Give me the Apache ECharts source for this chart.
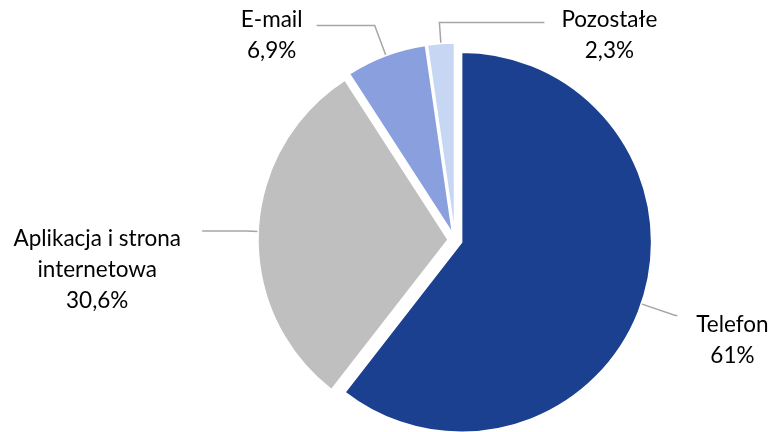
<!DOCTYPE html>
<html>
<head>
<meta charset="utf-8">
<script src="https://cdn.jsdelivr.net/npm/echarts@6/dist/echarts.min.js"></script>
<style>
  html, body { margin: 0; padding: 0; background: #ffffff; }
  #chart_container { width: 773px; height: 432px; }
</style>
</head>
<body>
<div id="chart_container"></div>
<script>
// data
const categories = ['Telefon', 'Aplikacja i strona\ninternetowa', 'E-mail', 'Pozostałe']
const shares = [61, 30.6, 6.9, 2.3]
const shareLabels = ['61%', '30,6%', '6,9%', '2,3%']

// styling
const sliceColors = ['#1b408f', '#bfbfbf', '#8a9fde', '#c6d6f3']

// label placement per slice: line lengths, text block width, padding, alignment
const lineLengths = [36, 12, 32, 21]
const lineLengths2 = [2, 44, 58, -105]
const blockWidths = [100, 200, 80, 110]
const blockPadding = [[50, 0, 0, 0], [78, 0, 0, 0], [19, 0, 0, 0], [26, 0, 0, 15]]
const blockAlign = ['left', 'right', 'right', 'left']

function buildChart(){
    let chart_container = document.getElementById('chart_container')
    let chart = echarts.init(chart_container)

    let pieData = categories.map((name, i) => {
        let lines = (name + '\n' + shareLabels[i]).split('\n')
        return {
            name: name,
            value: shares[i],
            selected: true,
            itemStyle: { color: sliceColors[i] },
            label: {
                formatter: lines.map(t => '{t|' + t + '}').join('\n'),
                padding: blockPadding[i],
                rich: {
                    t: {
                        width: blockWidths[i],
                        align: 'center',
                        fontFamily: 'Lato',
                        fontSize: 22.5,
                        lineHeight: 31,
                        color: '#000000'
                    }
                }
            },
            labelLine: { length: lineLengths[i], length2: lineLengths2[i] }
        }
    })

    let option = {
        animation: false,
        series: [
            {
                type: 'pie',
                center: [455, 240],
                radius: 190,
                startAngle: 90,
                clockwise: true,
                selectedMode: 'multiple',
                selectedOffset: 7,
                avoidLabelOverlap: false,
                itemStyle: { borderColor: '#ffffff', borderWidth: 1.5 },
                emphasis: { disabled: true },
                label: {
                    show: true,
                    position: 'outside',
                    fontFamily: 'Lato',
                    fontSize: 22.5,
                    color: '#000000'
                },
                labelLine: {
                    show: true,
                    minTurnAngle: 20,
                    lineStyle: { color: '#a6a6a6', width: 1.5 }
                },
                labelLayout: function (p) {
                    return { align: blockAlign[p.dataIndex], verticalAlign: 'middle' }
                },
                data: pieData
            }
        ]
    }
    chart.setOption(option)
}

buildChart()
</script>
</body>
</html>
